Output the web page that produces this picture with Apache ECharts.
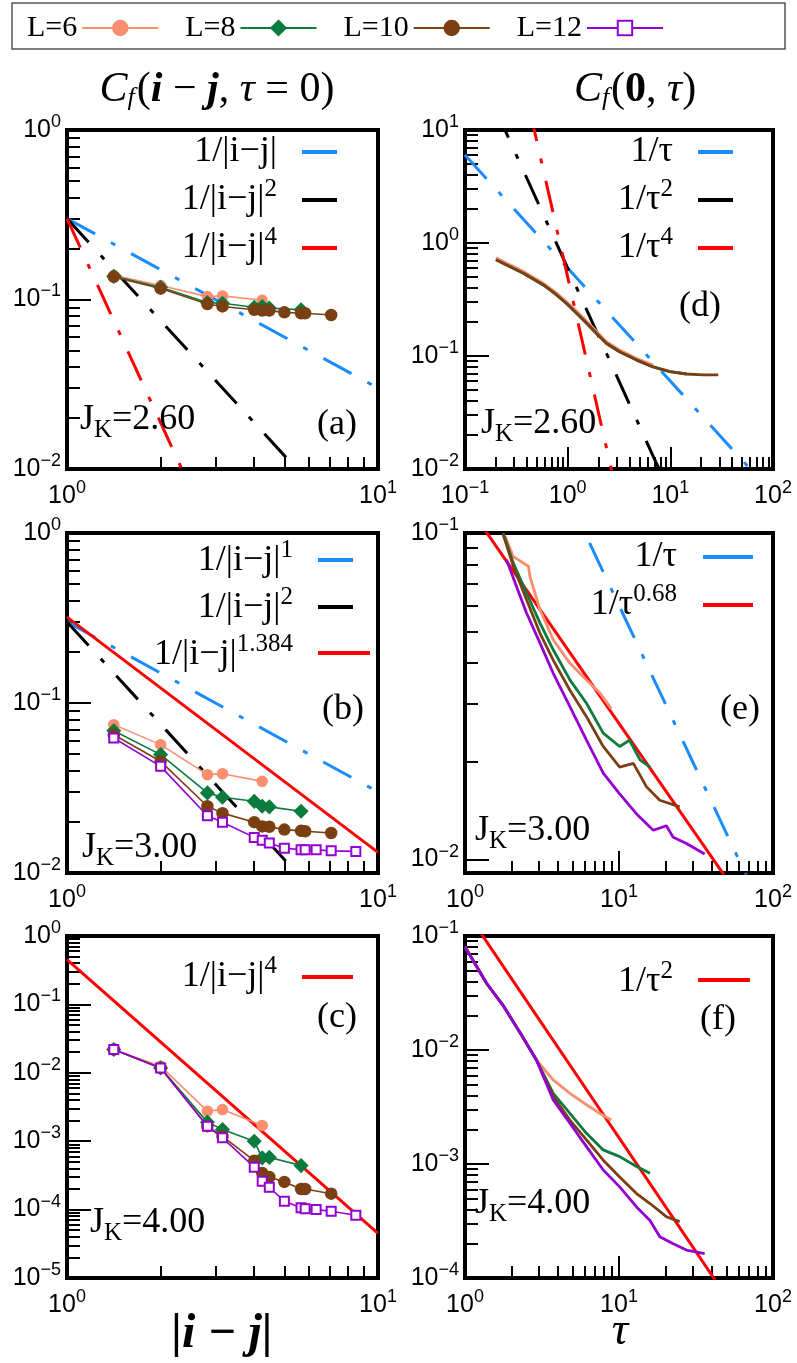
<!DOCTYPE html>
<html>
<head>
<meta charset="utf-8">
<script src="https://cdn.jsdelivr.net/npm/echarts@6/dist/echarts.min.js"></script>
<style>html,body{margin:0;padding:0;background:#fff}#main{width:797px;height:1363px}</style>
</head>
<body>
<div id="main"></div>
<script>
// distances |i-j| for each system size
var dist6  = [1.414, 2, 2.828, 3.162, 4.243];
var dist8  = [1.414, 2, 2.828, 3.162, 4, 4.243, 4.472, 5.657];
var dist10 = [1.414, 2, 2.828, 3.162, 4, 4.243, 4.472, 5, 5.657, 5.831, 7.071];
var dist12 = [1.414, 2, 2.828, 3.162, 4, 4.243, 4.472, 5, 5.657, 5.831, 6.325, 7.071, 8.485];

// (a) J_K=2.60
var a6  = [0.139, 0.121, 0.104, 0.105, 0.099];
var a8  = [0.137, 0.118, 0.096, 0.095, 0.090, 0.091, 0.089, 0.087];
var a10 = [0.136, 0.116, 0.094, 0.091, 0.087, 0.086, 0.086, 0.084, 0.083, 0.083, 0.081];
// (b) J_K=3.00
var b6  = [0.0746, 0.0569, 0.0379, 0.0384, 0.0346];
var b8  = [0.0687, 0.0497, 0.0296, 0.0279, 0.0264, 0.0247, 0.0245, 0.0231];
var b10 = [0.0651, 0.0454, 0.0247, 0.0225, 0.0199, 0.0188, 0.0187, 0.0180, 0.0177, 0.0176, 0.0172];
var b12 = [0.0622, 0.0424, 0.0217, 0.0199, 0.0162, 0.0156, 0.0150, 0.0140, 0.0137, 0.0137, 0.0137, 0.0135, 0.0134];
// (c) J_K=4.00
var c6  = [0.0219, 0.0125, 0.00275, 0.0029, 0.0017];
var c8  = [0.0219, 0.0118, 0.0019, 0.00148, 0.001, 0.00057, 0.00058, 0.00044];
var c10 = [0.0219, 0.0118, 0.00166, 0.00118, 0.00052, 0.000344, 0.0003, 0.000254, 0.0002, 0.0002, 0.000171];
var c12 = [0.0219, 0.0118, 0.00166, 0.00112, 0.000417, 0.00026, 0.000212, 0.000132, 0.000106, 0.000103, 0.0001, 0.0000946, 0.0000826];

// (d) C_f(0,tau), J_K=2.60
var tauD   = [0.2, 0.37, 0.58, 0.78, 0.98, 1.22, 1.53, 1.91, 2.39, 3.2, 4.7, 6.8, 9.9, 14.4, 21, 29.3];
var d6  = [0.74, 0.56, 0.44, 0.36, 0.30, 0.25, 0.203, 0.165, 0.134, 0.113, 0.095, 0.083];
var d8  = [0.71, 0.54, 0.425, 0.347, 0.29, 0.239, 0.195, 0.158, 0.129, 0.109, 0.092, 0.080, 0.0727, 0.0693];
var d10 = [0.71, 0.54, 0.425, 0.347, 0.29, 0.239, 0.195, 0.158, 0.129, 0.109, 0.092, 0.080, 0.0727, 0.0693, 0.068, 0.068];

// (e) J_K=3.00
var tauE6  = [1.82, 2.06, 2.58, 2.64, 3.07, 3.74, 4.8, 6.15, 7.5, 8.9];
var e6     = [0.0977, 0.0847, 0.0791, 0.0736, 0.0582, 0.0471, 0.0399, 0.0355, 0.0324, 0.029];
var tauE8  = [1.77, 2.06, 2.51, 3.07, 3.74, 4.8, 6.15, 7.9, 10.1, 11.7, 13.7, 15.9];
var e8     = [0.1, 0.0809, 0.0655, 0.053, 0.0439, 0.0355, 0.0301, 0.0244, 0.0222, 0.0232, 0.0202, 0.0192];
var tauE10 = [1.77, 2.06, 2.51, 3.07, 3.74, 4.8, 6.15, 7.9, 10.1, 12.4, 15.1, 18.4, 24.8];
var e10    = [0.0989, 0.0791, 0.0625, 0.0493, 0.0408, 0.033, 0.0274, 0.0222, 0.0192, 0.0197, 0.0167, 0.0152, 0.0145];
var tauE12 = [1.86, 2.16, 2.51, 3.07, 3.74, 4.8, 6.15, 7.9, 10.1, 13.0, 16.7, 20.3, 22.5, 27.4, 36];
var e12    = [0.0828, 0.0686, 0.0569, 0.046, 0.0372, 0.0294, 0.0232, 0.0184, 0.0159, 0.0138, 0.0123, 0.0127, 0.0117, 0.0112, 0.0104];

// (f) J_K=4.00
var tauF6  = [1.0, 1.38, 1.79, 2.29, 2.91, 3.74, 4.8, 6.15, 7.5, 8.9];
var f6     = [0.0805, 0.0385, 0.024, 0.014, 0.00817, 0.00546, 0.00417, 0.00331, 0.00278, 0.00243];
var tauF8  = [1.0, 1.38, 1.79, 2.29, 2.91, 3.74, 4.8, 6.15, 7.9, 10.1, 13.0, 15.9];
var f8     = [0.0805, 0.0385, 0.024, 0.014, 0.00817, 0.00417, 0.00278, 0.00186, 0.00133, 0.00116, 0.00095, 0.00083];
var tauF10 = [1.0, 1.38, 1.79, 2.29, 2.91, 3.74, 4.8, 6.15, 7.9, 10.1, 13.0, 15.9, 20.3, 24.8];
var f10    = [0.0805, 0.0385, 0.024, 0.014, 0.00817, 0.0039, 0.00243, 0.00163, 0.00108, 0.00077, 0.00055, 0.00045, 0.000345, 0.000312];
var tauF12 = [1.0, 1.38, 1.79, 2.29, 2.91, 3.74, 4.8, 6.15, 7.9, 10.1, 13.0, 15.9, 18.4, 22.5, 27.4, 36];
var f12    = [0.0805, 0.0385, 0.024, 0.014, 0.00817, 0.00364, 0.00228, 0.00142, 0.000885, 0.00063, 0.00042, 0.00032, 0.00023, 0.0002, 0.000176, 0.000164];

// power-law guides: coefficient, exponent
var guideA = [[0.3, 1], [0.3, 2], [0.3, 4]];
var guideB = [[0.3, 1], [0.3, 2], [0.32, 1.384]];
var guideC = [[0.45, 4]];
var guideD = [[0.6, 1], [0.6, 2], [0.5, 4]];
var guideE = [[0.6, 1], [0.125, 0.68]];
var guideF = [[0.17, 2]];

var sizeNames = ['L=6', 'L=8', 'L=10', 'L=12'];
var sizeColors = ['#F98F6F', '#0B7B3E', '#7B3F14', '#9400D3'];
var sizeSymbols = ['circle', 'diamond', 'circle', 'emptyRect'];
var sizeSymSize = [10, 13, 11, 9];
var BLUE = '#1A8CFF', BLACK = '#000', RED = '#FF0000';

var chart = echarts.init(document.getElementById('main'));

// a,d,b,e,c,f
var panels = [
    {left: 67,  top: 130, w: 311, h: 339, x: [0, 1],  y: [-2, 0]},
    {left: 465, top: 130, w: 308, h: 339, x: [-1, 2], y: [-2, 1]},
    {left: 67,  top: 533, w: 311, h: 340, x: [0, 1],  y: [-2, 0]},
    {left: 465, top: 533, w: 308, h: 340, x: [0, 2],  y: [-2.041, -1]},
    {left: 67,  top: 936, w: 311, h: 342, x: [0, 1],  y: [-5, 0]},
    {left: 465, top: 936, w: 308, h: 342, x: [0, 2],  y: [-4, -1]}
];

function lg(v){ return Math.log10(v); }
function majors(r){
    var out = [];
    for (var n = Math.ceil(r[0] - 1e-9); n <= r[1] + 1e-9; n++) out.push(n);
    return out;
}
function minors(r){
    var out = [];
    for (var n = Math.floor(r[0]); n <= Math.ceil(r[1]); n++) {
        for (var k = 2; k <= 9; k++) {
            var v = n + lg(k);
            if (v > r[0] && v < r[1]) out.push(v);
        }
    }
    return out;
}
function powLabel(v){
    var n = Math.round(v);
    return '{b|10}{s|' + (n < 0 ? '\u2212' + (-n) : n) + '}';
}
var labRich = {
    b: {fontSize: 25, fontFamily: 'Liberation Sans', color: '#000'},
    s: {fontSize: 18, fontFamily: 'Liberation Sans', color: '#000', padding: [0, 0, 16, 0]}
};

var grids = [], xAxes = [], yAxes = [], series = [];
panels.forEach(function(p, g){
    grids.push({left: p.left, top: p.top, width: p.w, height: p.h, show: true,
        borderColor: '#000', borderWidth: 4, backgroundColor: 'transparent'});
    xAxes.push({type: 'value', gridIndex: g, position: 'bottom', min: p.x[0], max: p.x[1],
        axisLine: {show: false, onZero: false}, splitLine: {show: false},
        axisTick: {inside: true, length: 22, customValues: majors(p.x), lineStyle: {width: 2, color: '#000'}},
        axisLabel: {customValues: majors(p.x), formatter: powLabel, rich: labRich, margin: 10}});
    xAxes.push({type: 'value', gridIndex: g, position: 'bottom', min: p.x[0], max: p.x[1],
        axisLine: {show: false, onZero: false}, splitLine: {show: false}, axisLabel: {show: false},
        axisTick: {inside: true, length: 12, customValues: minors(p.x), lineStyle: {width: 2, color: '#000'}}});
    yAxes.push({type: 'value', gridIndex: g, position: 'left', min: p.y[0], max: p.y[1],
        axisLine: {show: false, onZero: false}, splitLine: {show: false},
        axisTick: {inside: true, length: 24, customValues: majors(p.y), lineStyle: {width: 2, color: '#000'}},
        axisLabel: {customValues: majors(p.y), formatter: powLabel, rich: labRich, margin: 6}});
    yAxes.push({type: 'value', gridIndex: g, position: 'left', min: p.y[0], max: p.y[1],
        axisLine: {show: false, onZero: false}, splitLine: {show: false}, axisLabel: {show: false},
        axisTick: {inside: true, length: 13, customValues: minors(p.y), lineStyle: {width: 2, color: '#000'}}});
});

function addGuides(g, guides, colors, dashes){
    var r = panels[g].x;
    guides.forEach(function(gd, i){
        var x0 = Math.pow(10, r[0]), x1 = Math.pow(10, r[1]);
        series.push({type: 'line', xAxisIndex: 2 * g, yAxisIndex: 2 * g, name: 'guide' + g + '_' + i,
            showSymbol: false, silent: true, clip: true, z: 1,
            lineStyle: {color: colors[i], width: 3, type: dashes[i]},
            data: [[r[0], lg(gd[0] / Math.pow(x0, gd[1]))], [r[1], lg(gd[0] / Math.pow(x1, gd[1]))]]});
    });
}
var DASH = [32, 18, 5, 18];
function addData(g, k, xs, ys, marks){
    series.push({type: 'line', name: sizeNames[k], xAxisIndex: 2 * g, yAxisIndex: 2 * g, z: 3,
        symbol: sizeSymbols[k], symbolSize: sizeSymSize[k], showSymbol: marks,
        itemStyle: {color: sizeColors[k], borderColor: sizeColors[k], borderWidth: 1.5},
        lineStyle: {color: sizeColors[k], width: marks ? 1.6 : 2.8},
        data: xs.map(function(x, i){ return [lg(x), lg(ys[i])]; })});
}

// (a)
addGuides(0, guideA, [BLUE, BLACK, RED], [DASH, DASH, DASH]);
addData(0, 0, dist6, a6, true); addData(0, 1, dist8, a8, true); addData(0, 2, dist10, a10, true);
// (d)
addGuides(1, guideD, [BLUE, BLACK, RED], [DASH, DASH, DASH]);
addData(1, 0, tauD.slice(0, d6.length), d6, false);
addData(1, 1, tauD.slice(0, d8.length), d8, false);
addData(1, 2, tauD, d10, false);
// (b)
addGuides(2, guideB, [BLUE, BLACK, RED], [DASH, DASH, 'solid']);
addData(2, 0, dist6, b6, true); addData(2, 1, dist8, b8, true);
addData(2, 2, dist10, b10, true); addData(2, 3, dist12, b12, true);
// (e)
addGuides(3, guideE, [BLUE, RED], [DASH, 'solid']);
addData(3, 0, tauE6, e6, false); addData(3, 1, tauE8, e8, false);
addData(3, 2, tauE10, e10, false); addData(3, 3, tauE12, e12, false);
// (c)
addGuides(4, guideC, [RED], ['solid']);
addData(4, 0, dist6, c6, true); addData(4, 1, dist8, c8, true);
addData(4, 2, dist10, c10, true); addData(4, 3, dist12, c12, true);
// (f)
addGuides(5, guideF, [RED], ['solid']);
addData(5, 0, tauF6, f6, false); addData(5, 1, tauF8, f8, false);
addData(5, 2, tauF10, f10, false); addData(5, 3, tauF12, f12, false);

var serif = 'Liberation Serif';
var txtRich = {
    n: {fontSize: 36, fontFamily: serif, color: '#000'},
    sup: {fontSize: 25, fontFamily: serif, color: '#000', padding: [0, 0, 22, 0]},
    sub: {fontSize: 25, fontFamily: serif, color: '#000', padding: [20, 0, 0, 0]}
};
function text(x, y, str, align){
    return {type: 'text', x: x, y: y, z: 100,
        style: {text: str, rich: txtRich, align: align || 'left', verticalAlign: 'middle'}};
}
function legLine(x0, x1, y, color){
    return {type: 'line', z: 100, shape: {x1: x0, y1: y, x2: x1, y2: y}, style: {stroke: color, lineWidth: 4}};
}
var ij = '1/|i\u2212j|';
var titleRich = {c: {fontSize: 42, fontStyle: 'italic', fontFamily: serif}, f: {fontSize: 26, fontStyle: 'italic', fontFamily: serif, padding: [16, 2, 0, 0]},
    n: {fontSize: 42, fontFamily: serif}, bi: {fontSize: 42, fontStyle: 'italic', fontWeight: 'bold', fontFamily: serif},
    b: {fontSize: 42, fontWeight: 'bold', fontFamily: serif}};
var graphics = [
    {type: 'rect', shape: {x: 12, y: 3, width: 773, height: 46}, style: {fill: 'none', stroke: '#555', lineWidth: 1.5}},
    // column titles
    {type: 'text', x: 217, y: 90, style: {align: 'center', verticalAlign: 'middle',
        text: '{c|C}{f|f}{n|(}{bi|i}{n| \u2212 }{bi|j}{n|, }{c|\u03c4}{n| = 0)}', rich: titleRich}},
    {type: 'text', x: 635, y: 90, style: {align: 'center', verticalAlign: 'middle',
        text: '{c|C}{f|f}{n|(}{b|0}{n|, }{c|\u03c4}{n|)}', rich: titleRich}},
    // axis titles
    {type: 'text', x: 222, y: 1335, style: {align: 'center', verticalAlign: 'middle', text: '|i \u2212 j|',
        font: 'italic bold 48px "Liberation Serif"'}},
    {type: 'text', x: 620, y: 1332, style: {align: 'center', verticalAlign: 'middle', text: '\u03c4',
        font: 'italic 46px "Liberation Serif"'}},
    // (a)
    text(277, 152, '{n|' + ij + '}', 'right'), legLine(302, 337, 152, BLUE),
    text(277, 200, '{n|' + ij + '}{sup|2}', 'right'), legLine(302, 337, 200, BLACK),
    text(277, 248, '{n|' + ij + '}{sup|4}', 'right'), legLine(302, 337, 248, RED),
    text(337, 425, '{n|(a)}', 'center'), text(80, 420, '{n|J}{sub|K}{n|=2.60}'),
    // (d)
    text(673, 152, '{n|1/\u03c4}', 'right'), legLine(698, 733, 152, BLUE),
    text(673, 200, '{n|1/\u03c4}{sup|2}', 'right'), legLine(698, 733, 200, BLACK),
    text(673, 248, '{n|1/\u03c4}{sup|4}', 'right'), legLine(698, 733, 248, RED),
    text(700, 307, '{n|(d)}', 'center'), text(481, 424, '{n|J}{sub|K}{n|=2.60}'),
    // (b)
    text(293, 561, '{n|' + ij + '}{sup|1}', 'right'), legLine(318, 353, 560, BLUE),
    text(293, 608, '{n|' + ij + '}{sup|2}', 'right'), legLine(318, 353, 607, BLACK),
    text(293, 655, '{n|' + ij + '}{sup|1.384}', 'right'), legLine(318, 370, 653, RED),
    text(343, 710, '{n|(b)}', 'center'), text(82, 848, '{n|J}{sub|K}{n|=3.00}'),
    // (e)
    text(677, 557, '{n|1/\u03c4}', 'right'), legLine(703, 753, 557, BLUE),
    text(677, 605, '{n|1/\u03c4}{sup|0.68}', 'right'), legLine(703, 753, 605, RED),
    text(740, 710, '{n|(e)}', 'center'), text(475, 831, '{n|J}{sub|K}{n|=3.00}'),
    // (c)
    text(277, 977, '{n|' + ij + '}{sup|4}', 'right'), legLine(302, 353, 977, RED),
    text(337, 1018, '{n|(c)}', 'center'), text(90, 1223, '{n|J}{sub|K}{n|=4.00}'),
    // (f)
    text(673, 982, '{n|1/\u03c4}{sup|2}', 'right'), legLine(698, 750, 980, RED),
    text(718, 1020, '{n|(f)}', 'center'), text(475, 1204, '{n|J}{sub|K}{n|=4.00}')
];

chart.setOption({
    animation: false,
    backgroundColor: '#fff',
    legend: {data: sizeNames, left: 22, top: 8, align: 'right', itemWidth: 76, itemHeight: 18, itemGap: 26,
        textStyle: {fontFamily: serif, fontSize: 30, color: '#000'}},
    grid: grids,
    xAxis: xAxes,
    yAxis: yAxes,
    series: series,
    graphic: graphics
});
</script>
</body>
</html>
